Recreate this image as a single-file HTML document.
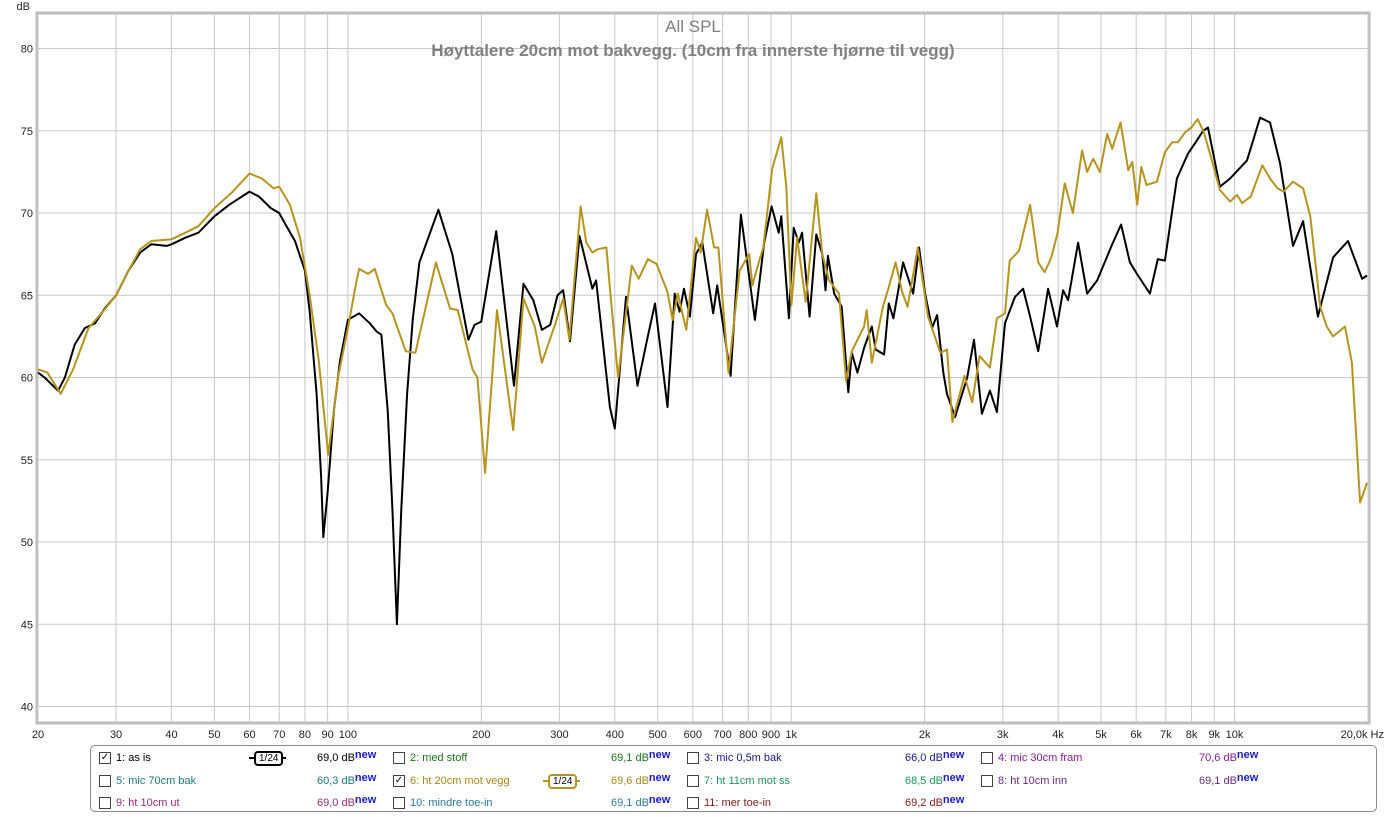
<!DOCTYPE html>
<html><head><meta charset="utf-8">
<style>
body{margin:0;background:#fff;width:1386px;height:817px;overflow:hidden;font-family:"Liberation Sans",sans-serif;}
svg{position:absolute;left:0;top:0}
#legend{position:absolute;left:90px;top:745px;width:1287px;height:67px;border:1px solid #8a8a8a;border-radius:5px;box-sizing:border-box;font-size:11px;}
.it{position:absolute;height:16px;line-height:16px;white-space:nowrap}
.cb{position:absolute;width:10px;height:10px;border:1px solid #444;background:#fff;top:2px;left:0;font-size:10px;line-height:10px;text-align:center;color:#000}
.lab{position:absolute;left:17px;top:0}
.val{position:absolute;white-space:nowrap;top:0;line-height:16px}
.new{color:#1a1ad0;font-weight:bold;font-size:11px;position:relative;top:-3px;line-height:0}
</style></head><body>
<svg id="chart" width="1386" height="745"></svg>
<div id="legend"></div>
<script>
const freqBlack=[20,20.7,22.2,23,24.2,25.5,26.9,28.3,30,32,34,36,39,40,43,46,50,54,60,63,67,70,72,76,80,82,85,87,88,90,93,96,100,106,112,116,119,123,126,129,132,136,140,145,160,172,179,187,193,200,216,237,249,262,274,286,297,306,317,333,356,363,390,400,424,450,473,493,526,546,560,573,591,610,630,667,681,730,770,828,869,903,937,950,988,1013,1040,1058,1100,1139,1175,1195,1210,1250,1300,1345,1370,1410,1460,1520,1550,1620,1660,1700,1788,1883,1943,2004,2078,2133,2203,2246,2343,2494,2584,2692,2807,2911,3036,3198,3334,3458,3607,3797,3977,4104,4212,4437,4650,4899,5297,5547,5808,6057,6442,6714,6966,7413,7850,8221,8492,8711,9270,9772,10670,11420,12020,12670,13550,14280,15420,16680,18030,19400,19900];
const dbBlack=[60.3,60.0,59.2,60.0,62.0,63.0,63.3,64.2,65.0,66.5,67.6,68.1,68.0,68.1,68.5,68.8,69.8,70.5,71.3,71.0,70.3,70.0,69.4,68.3,66.5,64,59,54,50.3,53,58,61,63.5,63.9,63.3,62.8,62.6,58,52,45.0,52,59,63.5,67,70.2,67.5,65,62.3,63.2,63.4,68.9,59.5,65.7,64.7,62.9,63.2,65,65.3,62.2,68.6,65.4,65.9,58.2,56.9,64.9,59.5,62.3,64.5,58.2,65.1,64,65.4,63.7,67.5,68.2,63.9,65.6,60.1,69.9,63.5,68.2,70.4,68.8,69.8,63.6,69.1,68.2,68.8,63.7,68.7,67.5,65.3,67.4,65.1,64.3,59.1,61.5,60.3,61.8,63.1,61.7,61.4,64.5,63.6,67.0,65.1,67.9,65.1,63,63.8,60.3,59,57.6,60,62.3,57.8,59.2,57.9,63.3,64.9,65.4,63.7,61.6,65.4,63.1,65.3,64.7,68.2,65.1,65.9,68.1,69.3,67,66.2,65.1,67.2,67.1,72.1,73.6,74.4,75.0,75.2,71.6,72.1,73.2,75.8,75.5,73.0,68,69.5,63.7,67.3,68.3,66.0,66.2];
const freqGold=[20,21,22.5,24,26,28,30,32,34,36,40,43,46,50,55,60,64,68,70,74,78,82,86,90.3,95,100,104,106,111,115,122,126,135,142,158,170,177,191,196,204,217,236,249,264,274,293,306,316,335,345,356,366,383,391,407,437,453,475,497,526,540,555,580,595,610,625,646,670,685,722,765,804,817,845,865,906,950,975,1001,1031,1078,1139,1175,1217,1282,1330,1370,1460,1480,1520,1610,1660,1720,1780,1830,1930,2035,2170,2246,2310,2460,2560,2660,2807,2911,3036,3110,3264,3458,3607,3730,3860,3990,4140,4320,4530,4650,4800,4970,5160,5297,5530,5760,5880,6030,6160,6330,6680,6966,7230,7450,7730,7990,8260,8530,8850,9270,9772,10130,10400,10880,11550,12020,12500,12900,13550,14280,14820,15600,16140,16680,17750,18400,19200,19900];
const dbGold=[60.5,60.3,59.0,60.5,63,64,65.0,66.5,67.8,68.3,68.4,68.8,69.2,70.3,71.3,72.4,72.1,71.5,71.6,70.5,68.5,65,61,55.3,60,63,65.5,66.6,66.3,66.6,64.4,63.9,61.6,61.5,67.0,64.2,64.1,60.5,60,54.2,64.1,56.8,64.8,63.1,60.9,63.2,64.8,62.3,70.4,68.2,67.6,67.8,67.9,65.1,60,66.8,66,67.2,66.9,65.2,63.5,65.1,62.9,65.7,68.5,67.6,70.2,67.9,67.9,60.3,66.5,67.5,65.6,67.0,67.9,72.7,74.6,71.6,64.4,68.5,64.6,71.2,67.5,65.9,65.1,59.8,61.6,63.1,64.1,60.9,64.3,65.5,67.0,65.2,64.3,67.9,63.7,61.5,61.7,57.3,60.1,58.5,61.3,60.6,63.6,63.9,67.1,67.7,70.5,67,66.4,67.3,68.8,71.8,70,73.8,72.5,73.3,72.5,74.8,73.9,75.5,72.6,73.1,70.5,72.8,71.7,71.9,73.7,74.3,74.3,74.9,75.2,75.7,74.9,73.4,71.4,70.7,71.1,70.6,71.0,72.9,72.1,71.5,71.3,71.9,71.5,69.8,64.3,63.1,62.5,63.1,60.9,52.4,53.6];
const yTicks=[40,45,50,55,60,65,70,75,80];
const gridFreqs=[20,30,40,50,60,70,80,90,100,200,300,400,500,600,700,800,900,1000,2000,3000,4000,5000,6000,7000,8000,9000,10000,20000];
const xTickLabels=["20","30","40","50","60","70","80","90","100","200","300","400","500","600","700","800","900","1k","2k","3k","4k","5k","6k","7k","8k","9k","10k","20,0k Hz"];

const L=38,R=1368,T=14,B=722;
const X=f=>L+(Math.log10(f/20))*(R-L)/3;
const Y=d=>48.5+(80-d)*16.45;
const NS="http://www.w3.org/2000/svg";
const svg=document.getElementById('chart');
function mk(tag,attrs,parent){const e=document.createElementNS(NS,tag);for(const k in attrs)e.setAttribute(k,attrs[k]);(parent||svg).appendChild(e);return e;}
const frame=mk('rect',{x:L-1,y:T-1,width:R-L+2,height:B-T+2,fill:'#fff',stroke:'#bdbdbd','stroke-width':3});


yTicks.forEach(v=>{
  const g=mk('line',{x1:L,x2:R,y1:Y(v),y2:Y(v),stroke:'#c8c8c8','stroke-width':1});
  
  
  const t=mk('text',{x:33,y:Y(v)+4,'text-anchor':'end','font-size':11,fill:'#222'});
  t.textContent=v;
  
  
});
gridFreqs.forEach((f,i)=>{
  const g=mk('line',{x1:X(f),x2:X(f),y1:T,y2:B,stroke:'#c8c8c8','stroke-width':1});
  
  
  const last=i===gridFreqs.length-1;
  const t=mk('text',{x:last?1384:X(f),y:738,'text-anchor':last?'end':'middle','font-size':11,fill:'#222'});
  t.textContent=xTickLabels[i];
  
  
});
const dbl=mk('text',{x:30,y:10,'text-anchor':'end','font-size':11,fill:'#222'});dbl.textContent='dB';


const t1=mk('text',{x:693,y:32,'text-anchor':'middle','font-size':17,fill:'#808080'});t1.textContent='All SPL';


const t2=mk('text',{x:693,y:56,'text-anchor':'middle','font-size':17,'font-weight':'bold',fill:'#808080'});t2.textContent='Høyttalere 20cm mot bakvegg. (10cm fra innerste hjørne til vegg)';


function series(fs,ds,color,name){
  let d='';fs.forEach((f,i)=>{d+=(i?'L':'M')+X(f).toFixed(1)+','+Y(ds[i]).toFixed(1);});
  const p=mk('path',{d:d,fill:'none',stroke:color,'stroke-width':2,'stroke-linejoin':'round'});
  
  
}
series(freqBlack,dbBlack,'#000','series-1-as-is');
series(freqGold,dbGold,'#b8941c','series-6-ht-20cm-mot-vegg');

const items=[
 ["1: as is","69,0",'#000',true,0,0,'#000'],["2: med stoff","69,1",'#1a7a1a',false,1,0],["3: mic 0,5m bak","66,0",'#1a1a8a',false,2,0],["4: mic 30cm fram","70,6",'#8a1a9a',false,3,0],
 ["5: mic 70cm bak","60,3",'#1a7a7a',false,0,1],["6: ht 20cm mot vegg","69,6",'#a88a10',true,1,1,'#b8941c'],["7: ht 11cm mot ss","68,5",'#1a9a5a',false,2,1],["8: ht 10cm inn","69,1",'#6a2a8a',false,3,1],
 ["9: ht 10cm ut","69,0",'#9a2a7a',false,0,2],["10: mindre toe-in","69,1",'#2a7a9a',false,1,2],["11: mer toe-in","69,2",'#8a1a1a',false,2,2]];
const lg=document.getElementById('legend');
items.forEach(it=>{
  const d=document.createElement('div');d.className='it';
  d.style.left=(8+it[4]*294)+'px';d.style.top=(4+it[5]*22.5)+'px';d.style.width='285px';
  
  
  d.innerHTML='<div class="cb">'+(it[3]?'✓':'')+'</div><span class="lab" style="color:'+it[2]+'">'+it[0]+'</span><span class="val" style="left:218px;color:'+it[2]+'">'+it[1]+' dB<span class="new">new</span></span>'+
   (it[6]?'<span style="position:absolute;left:150px;top:7px;width:37px;height:2px;background:'+it[6]+'"></span><span style="position:absolute;left:155px;top:1px;border:2px solid '+it[6]+';border-radius:4px;padding:0 3px;font-size:10px;line-height:11px;color:#000;background:#fff">1/24</span>':'');
  lg.appendChild(d);
});
</script>
</body></html>
